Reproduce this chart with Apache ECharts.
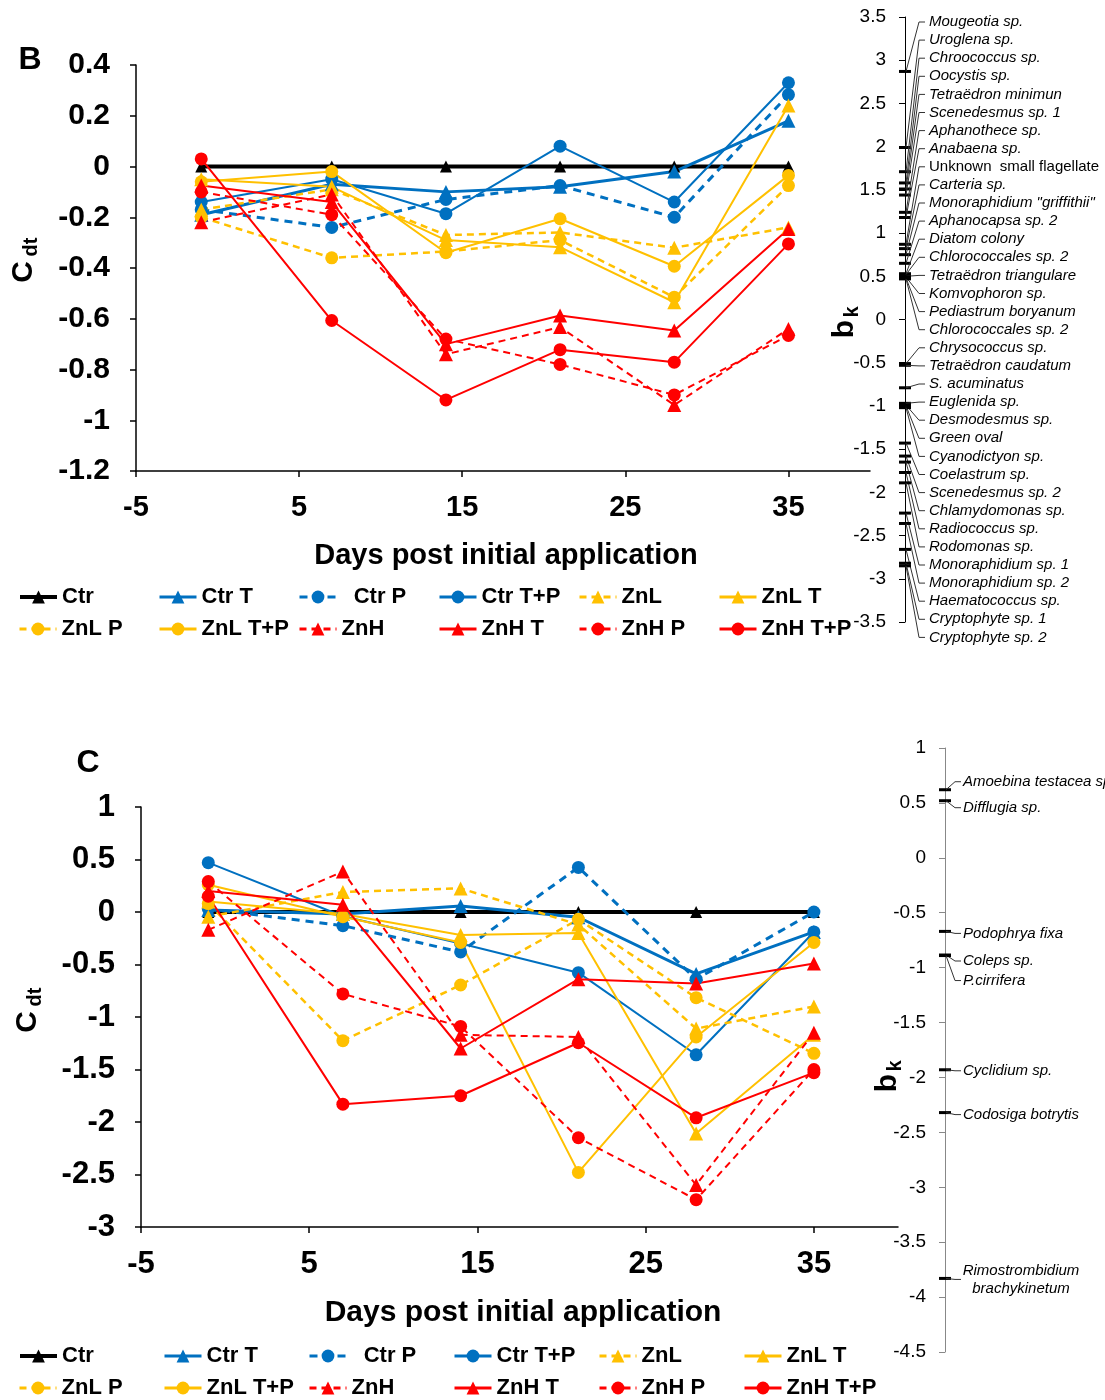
<!DOCTYPE html>
<html>
<head>
<meta charset="utf-8">
<script src="https://cdn.jsdelivr.net/npm/echarts@6/dist/echarts.min.js"></script>
<style>
  html, body { margin: 0; padding: 0; background: #fff; }
  #chart { width: 1105px; height: 1400px; }
</style>
</head>
<body>
<div id="chart"></div>
<script>
// Sampling days (days post initial application)
const days = [-1, 7, 14, 21, 28, 35];
const treatments = ['Ctr', 'Ctr T', 'Ctr P', 'Ctr T+P', 'ZnL', 'ZnL T', 'ZnL P', 'ZnL T+P', 'ZnH', 'ZnH T', 'ZnH P', 'ZnH T+P'];

// Panel B – phytoplankton, C_dt per treatment
const ctrB    = [0, 0, 0, 0, 0, 0];
const ctrTB   = [-0.19, -0.07, -0.10, -0.08, -0.02, 0.18];
const ctrPB   = [-0.17, -0.24, -0.13, -0.075, -0.20, 0.283];
const ctrTPB  = [-0.14, -0.05, -0.186, 0.08, -0.14, 0.33];
const znlB    = [-0.17, -0.09, -0.27, -0.26, -0.32, -0.24];
const znlTB   = [-0.05, -0.08, -0.29, -0.318, -0.535, 0.24];
const znlPB   = [-0.20, -0.36, -0.335, -0.29, -0.515, -0.075];
const znlTPB  = [-0.06, -0.02, -0.34, -0.206, -0.393, -0.035];
const znhB    = [-0.22, -0.11, -0.74, -0.633, -0.94, -0.64];
const znhTB   = [-0.075, -0.14, -0.70, -0.587, -0.646, -0.246];
const znhPB   = [-0.10, -0.19, -0.68, -0.78, -0.90, -0.666];
const znhTPB  = [0.03, -0.607, -0.92, -0.722, -0.771, -0.305];

// Panel C – protozoa, C_dt per treatment
const ctrC    = [0, 0, 0, 0, 0, 0];
const ctrTC   = [0.02, -0.02, 0.057, -0.05, -0.59, -0.19];
const ctrPC   = [0.03, -0.13, -0.38, 0.425, -0.64, 0.0];
const ctrTPC  = [0.47, -0.04, -0.30, -0.578, -1.36, -0.19];
const znlC    = [-0.045, 0.19, 0.225, -0.12, -1.11, -0.90];
const znlTC   = [0.10, -0.02, -0.22, -0.20, -2.11, -1.17];
const znlPC   = [0.08, -1.225, -0.695, -0.07, -0.816, -1.346];
const znlTPC  = [0.26, -0.045, -0.29, -2.48, -1.19, -0.29];
const znhC    = [-0.17, 0.385, -1.17, -1.19, -2.60, -1.15];
const znhTC   = [0.20, 0.07, -1.30, -0.64, -0.68, -0.49];
const znhPC   = [0.29, -0.78, -1.09, -2.15, -2.74, -1.50];
const znhTPC  = [0.15, -1.83, -1.75, -1.245, -1.96, -1.53];

// Species weights b_k (panel B, phytoplankton)
const speciesB = ['Mougeotia sp.', 'Uroglena sp.', 'Chroococcus sp.', 'Oocystis sp.', 'Tetraëdron minimun',
  'Scenedesmus sp. 1', 'Aphanothece sp.', 'Anabaena sp.', 'Unknown  small flagellate', 'Carteria sp.',
  'Monoraphidium "griffithii"', 'Aphanocapsa sp. 2', 'Diatom colony', 'Chlorococcales sp. 2',
  'Tetraëdron triangulare', 'Komvophoron sp.', 'Pediastrum boryanum', 'Chlorococcales sp. 2',
  'Chrysococcus sp.', 'Tetraëdron caudatum', 'S. acuminatus', 'Euglenida sp.', 'Desmodesmus sp.',
  'Green oval', 'Cyanodictyon sp.', 'Coelastrum sp.', 'Scenedesmus sp. 2', 'Chlamydomonas sp.',
  'Radiococcus sp.', 'Rodomonas sp.', 'Monoraphidium sp. 1', 'Monoraphidium sp. 2',
  'Haematococcus sp.', 'Cryptophyte sp. 1', 'Cryptophyte sp. 2'];
const bkB = [2.87, 1.99, 1.71, 1.58, 1.51, 1.44, 1.24, 1.18, 0.87, 0.82, 0.75, 0.65, 0.53, 0.52,
  0.50, 0.49, 0.48, 0.47, -0.51, -0.53, -0.79, -0.97, -0.99, -1.0, -1.02, -1.43, -1.58, -1.65,
  -1.77, -1.89, -2.24, -2.36, -2.66, -2.82, -2.85];

// Species weights b_k (panel C, protozoa)
const speciesC = ['Amoebina testacea sp.', 'Difflugia sp.', 'Podophrya fixa', 'Coleps sp.', 'P.cirrifera',
  'Cyclidium sp.', 'Codosiga botrytis', 'Rimostrombidium\nbrachykinetum'];
const bkC = [0.62, 0.52, -0.67, -0.885, -0.89, -1.93, -2.32, -3.83];

// ---- styling ----
const BLUE = '#0070C0', YEL = '#FFC000', RED = '#FF0000';
const seriesStyle = {
  'Ctr':     { color: '#000', width: 4,   dash: 'solid',  symbol: 'triangle' },
  'Ctr T':   { color: BLUE,   width: 3,   dash: 'solid',  symbol: 'triangle' },
  'Ctr P':   { color: BLUE,   width: 3,   dash: [8, 6],   symbol: 'circle' },
  'Ctr T+P': { color: BLUE,   width: 2,   dash: 'solid',  symbol: 'circle' },
  'ZnL':     { color: YEL,    width: 2.5, dash: [7, 5],   symbol: 'triangle' },
  'ZnL T':   { color: YEL,    width: 2,   dash: 'solid',  symbol: 'triangle' },
  'ZnL P':   { color: YEL,    width: 2.5, dash: [7, 5],   symbol: 'circle' },
  'ZnL T+P': { color: YEL,    width: 2,   dash: 'solid',  symbol: 'circle' },
  'ZnH':     { color: RED,    width: 2,   dash: [7, 5],   symbol: 'triangle' },
  'ZnH T':   { color: RED,    width: 2,   dash: 'solid',  symbol: 'triangle' },
  'ZnH P':   { color: RED,    width: 2,   dash: [7, 5],   symbol: 'circle' },
  'ZnH T+P': { color: RED,    width: 2,   dash: 'solid',  symbol: 'circle' }
};

const panelBValues = [ctrB, ctrTB, ctrPB, ctrTPB, znlB, znlTB, znlPB, znlTPB, znhB, znhTB, znhPB, znhTPB];
const panelCValues = [ctrC, ctrTC, ctrPC, ctrTPC, znlC, znlTC, znlPC, znlTPC, znhC, znhTC, znhPC, znhTPC];

const BOLD = 'Liberation Sans';
const REG = 'Liberation Sans';

function lineSeries(name, values, axis) {
  const st = seriesStyle[name];
  return {
    type: 'line', name: name, xAxisIndex: axis, yAxisIndex: axis,
    data: days.map((d, i) => [d, values[i]]),
    symbol: st.symbol,
    symbolSize: st.symbol === 'circle' ? 13 : (name === 'Ctr' ? 12 : 14),
    lineStyle: { color: st.color, width: st.width, type: st.dash },
    itemStyle: { color: st.color },
    emphasis: { disabled: true },
    animation: false
  };
}

function mainX(grid, fs) {
  return {
    gridIndex: grid, type: 'value', min: -5, max: 40, interval: 10,
    axisLine: { show: true, onZero: false, lineStyle: { color: '#000', width: 1.5 } },
    axisTick: { show: true, length: 6, lineStyle: { color: '#000', width: 1.5 } },
    axisLabel: { fontSize: fs, fontWeight: 'bold', fontFamily: BOLD, color: '#000', margin: 22, showMaxLabel: false },
    splitLine: { show: false }
  };
}
function mainY(grid, min, max, fs) {
  return {
    gridIndex: grid, type: 'value', min: min, max: max, interval: grid === 0 ? 0.2 : 0.5,
    axisLine: { show: true, onZero: false, lineStyle: { color: '#000', width: 1.5 } },
    axisTick: { show: true, length: 6, lineStyle: { color: '#000', width: 1.5 } },
    axisLabel: { fontSize: fs, fontWeight: 'bold', fontFamily: BOLD, color: '#000', margin: 26 },
    splitLine: { show: false }
  };
}
function bkY(grid, min, max, color) {
  return {
    gridIndex: grid, type: 'value', min: min, max: max, interval: 0.5, position: 'left',
    axisLine: { show: true, onZero: false, lineStyle: { color: color, width: 1 } },
    axisTick: { show: true, length: 6, lineStyle: { color: color, width: 1 } },
    axisLabel: { fontSize: 19, fontFamily: REG, color: '#000', margin: 19 },
    splitLine: { show: false }
  };
}
function hiddenX(grid) {
  return { gridIndex: grid, type: 'value', min: 0, max: 1, show: false };
}

// species marks on the b_k axis, with leader lines to their names
function speciesSeries(axis, names, values, labelY, opts) {
  return {
    type: 'custom', xAxisIndex: axis, yAxisIndex: axis, clip: false, silent: true, animation: false,
    data: values.map((v, i) => [0, v, i]),
    renderItem: function (params, api) {
      const i = params.dataIndex;
      const p = api.coord([0, api.value(1)]);
      const ly = labelY(i, p[1]);
      const name = names[i];
      const italic = name.indexOf('Unknown') !== 0;
      const twoLine = name.indexOf('\n') >= 0;
      return {
        type: 'group',
        children: [
          { type: 'rect', shape: { x: p[0] - 6, y: p[1] - 1.5, width: 12, height: 3 }, style: { fill: '#000' } },
          { type: 'polyline', shape: { points: [[p[0] + 1, p[1]], [p[0] + opts.bend, ly], [p[0] + opts.bend + 6, ly]] },
            style: { stroke: '#333', lineWidth: 1, fill: null } },
          { type: 'text', style: {
              text: name, x: twoLine ? p[0] + opts.textX + 58 : p[0] + opts.textX, y: ly,
              fontSize: opts.fontSize, fontStyle: italic ? 'italic' : 'normal', fontFamily: REG, fill: '#000',
              align: twoLine ? 'center' : 'left', verticalAlign: 'middle', lineHeight: 18 } }
        ]
      };
    }
  };
}

// label nudges for panel C species names (px)
const labelNudgeC = [-8, 7, 2, 6, 25, 1, 2, 1];

const series = [];
treatments.forEach((n, k) => series.push(lineSeries(n, panelBValues[k], 0)));
treatments.forEach((n, k) => series.push(lineSeries(n, panelCValues[k], 1)));
series.push(speciesSeries(2, speciesB, bkB, (i) => 22 + i * 18.1, { bend: 14, textX: 24, fontSize: 15 }));
series.push(speciesSeries(3, speciesC, bkC, (i, y) => y + labelNudgeC[i], { bend: 10, textX: 18, fontSize: 15 }));

// one legend block per entry, laid out in two rows of six
const legends = [];
function addLegends(x0, dx, rowTops) {
  treatments.forEach((n, k) => {
    legends.push({
      data: [n], left: x0 + (k % 6) * dx, top: rowTops[Math.floor(k / 6)],
      padding: 0, itemWidth: 37, itemHeight: 16, itemGap: 0, selectedMode: false,
      lineStyle: { width: n === 'Ctr' ? 4 : 3 },
      formatter: n === 'Ctr P' ? '  Ctr P' : '{name}',
      textStyle: { fontSize: 22, fontWeight: 'bold', fontFamily: BOLD, color: '#000' }
    });
  });
}
addLegends(18, 140, [586, 618]);
addLegends(18, 145, [1345, 1377]);

function txt(x, y, s, size, rot, extra) {
  return Object.assign({
    type: 'text', x: x, y: y, rotation: rot || 0, silent: true,
    style: { text: s, fontSize: size, fontWeight: 'bold', fontFamily: BOLD, fill: '#000', align: 'center', verticalAlign: 'middle' }
  }, extra || {});
}

const option = {
  backgroundColor: '#fff',
  animation: false,
  grid: [
    { left: 136, top: 65, width: 734, height: 406 },
    { left: 141, top: 807, width: 757, height: 420 },
    { left: 905, top: 17, width: 190, height: 605 },
    { left: 945, top: 748, width: 150, height: 604 }
  ],
  xAxis: [mainX(0, 29), mainX(1, 31), hiddenX(2), hiddenX(3)],
  yAxis: [mainY(0, -1.2, 0.4, 30), mainY(1, -3, 1, 31), bkY(2, -3.5, 3.5, '#000'), bkY(3, -4.5, 1, '#888')],
  legend: legends,
  series: series,
  graphic: [
    txt(30, 60, 'B', 32),
    txt(88, 763, 'C', 32),
    txt(506, 556, 'Days post initial application', 29),
    txt(523, 1313, 'Days post initial application', 30),
    // C_dt axis titles
    txt(24, 272, 'C', 30, Math.PI / 2),
    txt(31, 247, 'dt', 20, Math.PI / 2),
    txt(28, 1022, 'C', 30, Math.PI / 2),
    txt(35, 997, 'dt', 20, Math.PI / 2),
    // b_k axis titles
    txt(845, 329, 'b', 30, Math.PI / 2),
    txt(852, 312, 'k', 20, Math.PI / 2),
    txt(888, 1083, 'b', 30, Math.PI / 2),
    txt(895, 1066, 'k', 20, Math.PI / 2)
  ]
};

const chart = echarts.init(document.getElementById('chart'), null, { renderer: 'canvas', width: 1105, height: 1400 });
chart.setOption(option);
</script>
</body>
</html>
